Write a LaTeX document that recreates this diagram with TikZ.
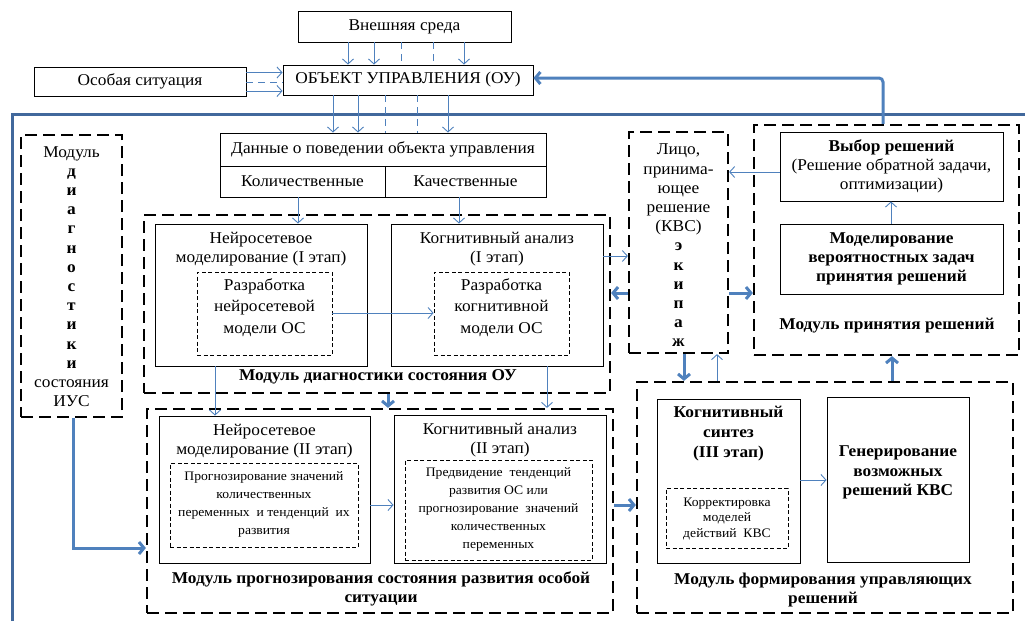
\documentclass[tikz,border=0pt]{standalone}
\usepackage{fontspec}
\setmainfont{Liberation Serif}[FakeStretch=1.05]
\usetikzlibrary{arrows.meta}
\definecolor{ablue}{HTML}{4F81BD}
\definecolor{lblue}{HTML}{41689C}
\begin{document}
\begin{tikzpicture}[x=1pt,y=-1pt,
 box/.style={draw, line width=0.9pt, inner sep=0pt, align=center, font=\fontsize{16.5}{19}\selectfont},
 dbox/.style={draw, line width=2.2pt, dash pattern=on 12pt off 6pt, inner sep=0pt},
 ibox/.style={draw, line width=0.8pt, dash pattern=on 4pt off 2.5pt, inner sep=0pt},
 txt/.style={align=center, inner sep=0pt, font=\fontsize{16.5}{19.2}\selectfont},
 btxt/.style={align=center, inner sep=0pt, font=\fontsize{16.5}{19}\selectfont\bfseries},
 stxt/.style={align=center, inner sep=0pt, font=\fontsize{13}{18.2}\selectfont},
 arr/.style={ablue, line width=0.9pt, -{Straight Barb[length=5pt,width=11pt]}},
 tarr/.style={ablue, line width=3pt, -{Straight Barb[length=5pt,width=12pt]}},
 dln/.style={ablue, line width=0.9pt, dash pattern=on 7pt off 5pt}]
\useasboundingbox (0,0) rectangle (1025,621);
% top boxes
\node[box, minimum width=213pt, minimum height=31pt] (ext) at (404.5,26.5) {Внешняя среда};
\node[box, minimum width=250pt, minimum height=30pt] (ou) at (408,80) {ОБЪЕКТ УПРАВЛЕНИЯ (ОУ)};
\node[box, minimum width=212pt, minimum height=29pt] (os) at (140,81.5) {Особая ситуация};
% big blue line
\coordinate (lb) at (12,621);
\coordinate (lc) at (12,114);
\coordinate (lr) at (1025,114);
\draw[lblue, line width=3pt] (lb) -- (lc) -- (lr);
% data boxes
\node[box, minimum width=326pt, minimum height=33pt] (data) at (383,149.5) {Данные о поведении объекта управления};
\node[box, minimum width=165pt, minimum height=31pt] (kol) at (302.5,181.5) {Количественные};
\node[box, minimum width=161pt, minimum height=31pt] (kach) at (465.5,181.5) {Качественные};
% left module
\node[dbox, minimum width=101pt, minimum height=282pt] (ius) at (71.5,276) {};
\node[txt] (iusT) at (71.5,276.5) {Модуль\\\textbf{д}\\\textbf{и}\\\textbf{а}\\\textbf{г}\\\textbf{н}\\\textbf{о}\\\textbf{с}\\\textbf{т}\\\textbf{и}\\\textbf{к}\\\textbf{и}\\состояния\\ИУС};
% diag module
\node[dbox, minimum width=466pt, minimum height=178pt] (diag) at (377,304) {};
\node[btxt] (diagT) at (378,377) {Модуль диагностики состояния ОУ};
\node[box, minimum width=212pt, minimum height=142pt] (n1) at (261,295) {};
\node[txt] (n1T) at (261,249.5) {Нейросетевое\\моделирование (I этап)};
\node[ibox, minimum width=135pt, minimum height=83pt] (n1i) at (264.5,313.5) {};
\node[txt, font=\fontsize{16.5}{21.5}\selectfont] (n1iT) at (264.5,307.5) {Разработка\\нейросетевой\\модели ОС};
\node[box, minimum width=212pt, minimum height=142pt] (c1) at (497,295) {};
\node[txt] (c1T) at (497,249) {Когнитивный анализ\\(I этап)};
\node[ibox, minimum width=135pt, minimum height=83pt] (c1i) at (501.5,313.5) {};
\node[txt, font=\fontsize{16.5}{21.5}\selectfont] (c1iT) at (501.5,307.5) {Разработка\\когнитивной\\модели ОС};
% LPR
\node[dbox, minimum width=99pt, minimum height=221pt] (lpr) at (678.5,242.5) {};
\node[txt] (lprT) at (678.5,245.5) {Лицо,\\принима-\\ющее\\решение\\(КВС)\\\textbf{э}\\\textbf{к}\\\textbf{и}\\\textbf{п}\\\textbf{а}\\\textbf{ж}};
% decision module
\node[dbox, minimum width=265pt, minimum height=230pt] (pr) at (886.5,240) {};
\node[box, minimum width=223pt, minimum height=69pt] (vyb) at (891.5,166.5) {\textbf{Выбор решений}\\(Решение обратной задачи,\\оптимизации)};
\node[box, minimum width=223pt, minimum height=70pt, font=\fontsize{16.5}{19}\selectfont\bfseries] (mod) at (891.5,259) {Моделирование\\вероятностных задач\\принятия решений};
\node[btxt] (prT) at (887,326) {Модуль принятия решений};
% forecast module
\node[dbox, minimum width=466pt, minimum height=204pt] (prog) at (380,511) {};
\node[box, minimum width=211pt, minimum height=147pt] (n2) at (264.5,489.5) {};
\node[txt] (n2T) at (264.5,441.5) {Нейросетевое\\моделирование (II этап)};
\node[ibox, minimum width=188pt, minimum height=84pt] (n2i) at (264,505) {};
\node[stxt] (n2iT) at (264,504.5) {Прогнозирование значений\\количественных\\переменных \ и тенденций \ их\\развития};
\node[box, minimum width=212pt, minimum height=148pt] (c2) at (500,489) {};
\node[txt] (c2T) at (500,440) {Когнитивный анализ\\(II этап)};
\node[ibox, minimum width=187pt, minimum height=100pt] (c2i) at (498.5,510) {};
\node[stxt] (c2iT) at (498.5,509.5) {Предвидение \ тенденций\\развития ОС или\\прогнозирование \ значений\\количественных\\переменных};
\node[btxt] (progT) at (381,589) {Модуль прогнозирования состояния развития особой\\ситуации};
% control module
\node[dbox, minimum width=376pt, minimum height=231pt] (form) at (825,497.5) {};
\node[box, minimum width=143pt, minimum height=164pt] (sint) at (728.5,481) {};
\node[btxt, font=\fontsize{16.5}{20}\selectfont\bfseries] (sintT) at (728.5,434) {Когнитивный\\синтез\\(III этап)};
\node[ibox, minimum width=122pt, minimum height=60pt] (sinti) at (727,518) {};
\node[stxt, font=\fontsize{13}{15.5}\selectfont] (sintiT) at (727,518.5) {Корректировка\\моделей\\действий \ КВС};
\node[box, minimum width=142pt, minimum height=165pt] (gen) at (898,479.5) {};
\node[btxt, font=\fontsize{16.5}{19.5}\selectfont\bfseries] (genT) at (898,472.5) {Генерирование\\возможных\\решений КВС};
\node[btxt] (formT) at (823,590.5) {Модуль формирования управляющих\\решений};
% connectors: external environment
\draw[arr] (348,0 |- ext.south) -- (348,0 |- ou.north);
\draw[arr] (374,0 |- ext.south) -- (374,0 |- ou.north);
\draw[dln] (401,0 |- ext.south) -- (401,0 |- ou.north);
\draw[dln] (433,0 |- ext.south) -- (433,0 |- ou.north);
\draw[arr] (464,0 |- ext.south) -- (464,0 |- ou.north);
% special situation
\draw[arr] (os.east |- 0,72.5) -- (ou.west |- 0,72.5);
\draw[dln] (os.east |- 0,82) -- (ou.west |- 0,82);
\draw[arr] (os.east |- 0,91) -- (ou.west |- 0,91);
% OU to data
\draw[arr] (333,0 |- ou.south) -- (333,0 |- data.north);
\draw[arr] (358,0 |- ou.south) -- (358,0 |- data.north);
\draw[dln] (385,0 |- ou.south) -- (385,0 |- data.north);
\draw[dln] (417,0 |- ou.south) -- (417,0 |- data.north);
\draw[arr] (448,0 |- ou.south) -- (448,0 |- data.north);
% data to stage I
\draw[arr] (298,0 |- kol.south) -- (298,0 |- n1.north);
\draw[arr] (459,0 |- kach.south) -- (459,0 |- c1.north);
\draw[arr] (n1i.east |- 0,313) -- (c1i.west |- 0,313);
\draw[arr] (c1.east |- 0,256) -- (lpr.west |- 0,256);
\draw[tarr] (lpr.west |- 0,293) -- (diag.east |- 0,293);
\draw[tarr] (lpr.east |- 0,293) -- (pr.west |- 0,293);
\draw[arr] (vyb.west |- 0,172) -- (lpr.east |- 0,172);
\draw[arr] (891,0 |- mod.north) -- (891,0 |- vyb.south);
% feedback
\draw[tarr, rounded corners=4pt] (883,0 |- pr.north) -- (883,78) -- (ou.east |- 0,78);
% LPR <-> forming
\draw[tarr] (684,0 |- lpr.south) -- (684,0 |- form.north);
\draw[arr] (717,0 |- form.north) -- (717,0 |- lpr.south);
\draw[tarr] (892,0 |- form.north) -- (892,0 |- pr.south);
% diag to forecast
\draw[arr] (215,0 |- n1.south) -- (215,0 |- n2.north);
\draw[tarr] (388,0 |- diag.south) -- (388,0 |- prog.north);
\draw[arr] (547,0 |- c1.south) -- (547,0 |- prog.north);
\draw[arr] (n2.east |- 0,505) -- (c2.west |- 0,505);
\draw[arr] (sint.east |- 0,480) -- (gen.west |- 0,480);
\draw[tarr] (prog.east |- 0,505) -- (form.west |- 0,505);
\draw[tarr] (73,0 |- ius.south) -- (73,548) -- (prog.west |- 0,548);
\end{tikzpicture}
\end{document}
